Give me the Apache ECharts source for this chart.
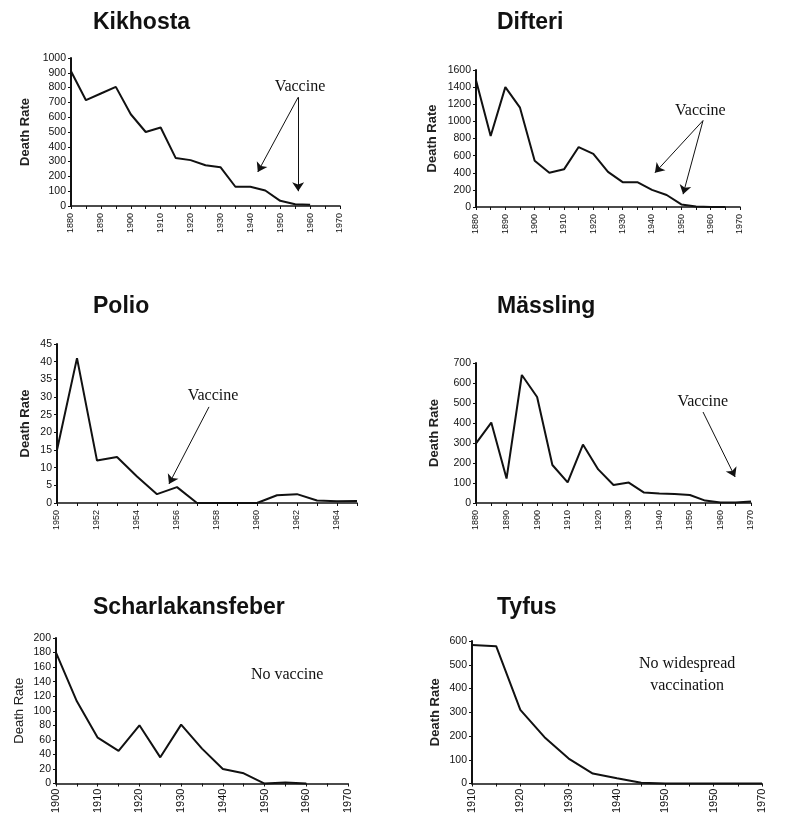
<!DOCTYPE html>
<html>
<head>
<meta charset="utf-8">
<script src="https://cdn.jsdelivr.net/npm/echarts@6/dist/echarts.min.js"></script>
<style>
html,body{margin:0;padding:0;background:#fff;}
#c{width:795px;height:816px;}
</style>
</head>
<body>
<div id="c"></div>
<script>
// ---- Data ----
const titles = ['Kikhosta', 'Difteri', 'Polio', 'Mässling', 'Scharlakansfeber', 'Tyfus'];

const kikhostaYears = [1880,1885,1890,1895,1900,1905,1910,1915,1920,1925,1930,1935,1940,1945,1950,1955,1960];
const kikhostaValues = [910,715,760,805,620,500,530,325,310,275,262,130,130,105,35,12,8];

const difteriYears = [1880,1885,1890,1895,1900,1905,1910,1915,1920,1925,1930,1935,1940,1945,1950,1955,1960,1965];
const difteriValues = [1480,830,1400,1160,540,400,440,700,620,410,290,290,200,140,30,5,0,0];

const polioYears = [1950,1951,1952,1953,1954,1955,1956,1957,1958,1959,1960,1961,1962,1963,1964,1965];
const polioValues = [15,41,12,13,7.5,2.5,4.5,0,0,0,0,2.2,2.5,0.7,0.5,0.6];

const masslingYears = [1880,1885,1890,1895,1900,1905,1910,1915,1920,1925,1930,1935,1940,1945,1950,1955,1960,1965,1970];
const masslingValues = [298,402,122,640,530,190,103,292,168,90,102,52,47,45,40,12,3,2,8];

const scharlakanYears = [1900,1905,1910,1915,1920,1925,1930,1935,1940,1945,1950,1955,1960];
const scharlakanValues = [180,113,63,45,80,36,81,48,20,14,0,1.5,0];

const tyfusYears = [1910,1915,1920,1925,1930,1935,1940,1945,1950,1955,1960,1965,1970];
const tyfusValues = [583,578,310,195,105,42,22,3,0,0,0,0,0];
const tyfusTickLabels = ['1910','1920','1930','1940','1950','1950','1970'];

// annotation texts
const vaccineText = 'Vaccine';
const noVaccineText = 'No vaccine';
const noWidespreadText = 'No widespread\nvaccination';

// ---- Layout ----
const panels = [
  {years: kikhostaYears, values: kikhostaValues, grid:{left:71, top:58, width:269, height:148},
   xMin:1880, xMax:1970, xInt:10, yMax:1000, yInt:100, title:{left:93, top:11}, nameGap:39,
   text:{coord:[1956.6, 805], t: vaccineText},
   arrows:[[[1956,735],[1942.5,230]], [[1956,735],[1956,100]]]},
  {years: difteriYears, values: difteriValues, grid:{left:476, top:70, width:264, height:137},
   xMin:1880, xMax:1970, xInt:10, yMax:1600, yInt:200, title:{left:497, top:11}, nameGap:37,
   text:{coord:[1956.5, 1125], t: vaccineText},
   arrows:[[[1957.4,1010],[1941,400]], [[1957.4,1010],[1950.6,150]]]},
  {years: polioYears, values: polioValues, grid:{left:57, top:344, width:300, height:159},
   xMin:1950, xMax:1965, xInt:1, yMax:45, yInt:5, title:{left:93, top:295}, nameGap:25,
   text:{coord:[1957.8, 30.2], t: vaccineText},
   arrows:[[[1957.6,27.2],[1955.6,5.4]]]},
  {years: masslingYears, values: masslingValues, grid:{left:476, top:363, width:275, height:140},
   xMin:1880, xMax:1970, xInt:10, yMax:700, yInt:100, title:{left:497, top:295}, nameGap:35,
   text:{coord:[1954.2, 505], t: vaccineText},
   arrows:[[[1954.3,455],[1964.8,130]]]},
  {years: scharlakanYears, values: scharlakanValues, grid:{left:56, top:638, width:292, height:148},
   xMin:1900, xMax:1970, xInt:10, yMax:200, yInt:20, title:{left:93, top:596}, nameGap:30, nameWeight:'normal',
   xFont:11, xMargin:5,
   text:{coord:[1955.4, 149], t: noVaccineText},
   arrows:[]},
  {years: tyfusYears, values: tyfusValues, grid:{left:472, top:641, width:290, height:143},
   xMin:1910, xMax:1970, xInt:10, yMax:600, yInt:100, title:{left:497, top:596}, nameGap:30,
   xFont:11, xMargin:5,
   text:{coord:[1954.5, 457], t: noWidespreadText}, labels: tyfusTickLabels,
   arrows:[]}
];

const chart = echarts.init(document.getElementById('c'), null, {renderer:'canvas'});
const black = '#111';
const option = {
  backgroundColor:'#fff',
  animation:false,
  title: panels.map((p,i)=>({
    text: titles[i], left: p.title.left, top: p.title.top, padding:0,
    textStyle:{fontFamily:'Liberation Sans, Arial, sans-serif', fontWeight:'bold', fontSize:23, color:black}
  })),
  grid: panels.map(p=>p.grid),
  xAxis: panels.map((p,i)=>({
    type:'value', gridIndex:i, min:p.xMin, max:p.xMax, interval:p.xInt,
    splitLine:{show:false},
    axisLine:{show:true, onZero:false, lineStyle:{color:black, width:1.5}},
    axisTick:{show:true, length:3, inside:false, lineStyle:{color:black}},
    minorTick:{show: p.xInt===10, splitNumber:2, length:3, lineStyle:{color:black}},
    axisLabel:{
      rotate:90, margin:p.xMargin || 7, fontSize:p.xFont || 9, color:black, fontFamily:'Liberation Sans, Arial, sans-serif',
      formatter: (v)=>{
        if (p.labels) return p.labels[Math.round((v-p.xMin)/p.xInt)] || '';
        if (p.xInt===1) return (v%2===0 && v<=1964) ? String(v) : '';
        return String(v);
      }
    }
  })),
  yAxis: panels.map((p,i)=>({
    type:'value', gridIndex:i, min:0, max:p.yMax, interval:p.yInt,
    name:'Death Rate', nameLocation:'middle', nameGap: p.nameGap,
    nameTextStyle:{fontFamily:'Liberation Sans, Arial, sans-serif', fontSize:13, fontWeight: p.nameWeight || 'bold', color:'#222'},
    splitLine:{show:false},
    axisLine:{show:true, onZero:false, lineStyle:{color:black, width:2}},
    axisTick:{show:true, length:3, lineStyle:{color:black}},
    axisLabel:{margin:5, fontSize:10.5, color:black, fontFamily:'Liberation Sans, Arial, sans-serif',
      formatter:(v)=>String(v)}
  })),
  series: panels.map((p,i)=>({
    type:'line', xAxisIndex:i, yAxisIndex:i,
    data: p.years.map((y,k)=>[y, p.values[k]]),
    showSymbol:false, symbol:'none', smooth:false,
    lineStyle:{color:black, width:2},
    clip:false,
    markLine:{
      silent:true, symbol:['none','arrow'], symbolSize:9,
      label:{show:false},
      lineStyle:{color:black, width:1, type:'solid'},
      data: p.arrows.map(a=>[{coord:a[0], symbol:'none'},{coord:a[1], symbol:'arrow', symbolSize:9}])
    },
    markPoint:{
      silent:true, symbol:'rect', symbolSize:1,
      itemStyle:{color:'rgba(0,0,0,0)'},
      label:{show:true, position:'inside', color:black, fontFamily:'Liberation Serif, Times New Roman, serif', fontSize:16, lineHeight:22, align:'center'},
      data:[{coord:p.text.coord, value:p.text.t, label:{formatter:p.text.t}}]
    }
  }))
};
chart.setOption(option);
</script>
</body>
</html>
